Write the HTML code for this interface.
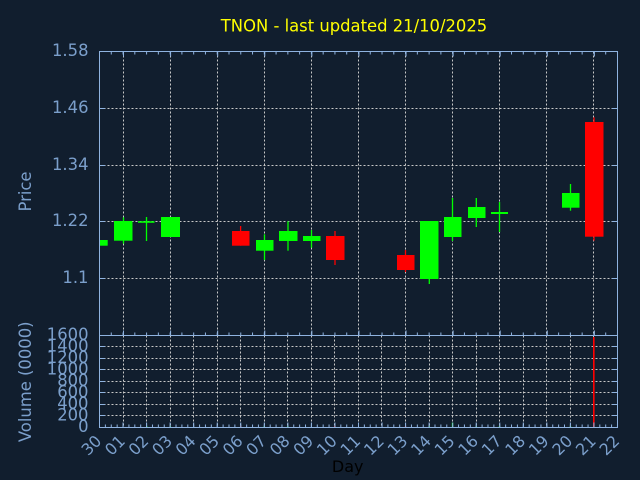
<!DOCTYPE html>
<html>
<head>
<meta charset="utf-8">
<style>
html,body{margin:0;padding:0;background:#111e2e;}
svg{display:block;}
text{font-family:"DejaVu Sans","Liberation Sans",sans-serif;}
</style>
</head>
<body>
<svg width="640" height="480" viewBox="0 0 640 480" xmlns="http://www.w3.org/2000/svg">
<rect x="0" y="0" width="640" height="480" fill="#111e2e"/>

<!-- Title -->
<text x="354" y="31.5" font-size="16.4" fill="#ffff00" text-anchor="middle">TNON - last updated 21/10/2025</text>

<!-- Price grid -->
<g stroke="#c8c8c8" stroke-width="1" stroke-dasharray="2,2" fill="none">
  <line x1="99.5" y1="108.5" x2="617.5" y2="108.5"/>
  <line x1="99.5" y1="165.5" x2="617.5" y2="165.5"/>
  <line x1="99.5" y1="221.5" x2="617.5" y2="221.5"/>
  <line x1="99.5" y1="278.5" x2="617.5" y2="278.5"/>
  <line x1="123.5" y1="51.5" x2="123.5" y2="335.5"/>
  <line x1="170.5" y1="51.5" x2="170.5" y2="335.5"/>
  <line x1="217.5" y1="51.5" x2="217.5" y2="335.5"/>
  <line x1="264.5" y1="51.5" x2="264.5" y2="335.5"/>
  <line x1="311.5" y1="51.5" x2="311.5" y2="335.5"/>
  <line x1="358.5" y1="51.5" x2="358.5" y2="335.5"/>
  <line x1="405.5" y1="51.5" x2="405.5" y2="335.5"/>
  <line x1="452.5" y1="51.5" x2="452.5" y2="335.5"/>
  <line x1="499.5" y1="51.5" x2="499.5" y2="335.5"/>
  <line x1="546.5" y1="51.5" x2="546.5" y2="335.5"/>
  <line x1="593.5" y1="51.5" x2="593.5" y2="335.5"/>
</g>

<!-- Volume grid -->
<g stroke="#c8c8c8" stroke-width="1" stroke-dasharray="2,2" fill="none">
  <line x1="99.5" y1="346.5" x2="617.5" y2="346.5"/>
  <line x1="99.5" y1="358.5" x2="617.5" y2="358.5"/>
  <line x1="99.5" y1="369.5" x2="617.5" y2="369.5"/>
  <line x1="99.5" y1="381.5" x2="617.5" y2="381.5"/>
  <line x1="99.5" y1="392.5" x2="617.5" y2="392.5"/>
  <line x1="99.5" y1="404.5" x2="617.5" y2="404.5"/>
  <line x1="99.5" y1="415.5" x2="617.5" y2="415.5"/>
  <line x1="123.5" y1="335.5" x2="123.5" y2="427.5"/>
  <line x1="146.5" y1="335.5" x2="146.5" y2="427.5"/>
  <line x1="170.5" y1="335.5" x2="170.5" y2="427.5"/>
  <line x1="193.5" y1="335.5" x2="193.5" y2="427.5"/>
  <line x1="217.5" y1="335.5" x2="217.5" y2="427.5"/>
  <line x1="240.5" y1="335.5" x2="240.5" y2="427.5"/>
  <line x1="264.5" y1="335.5" x2="264.5" y2="427.5"/>
  <line x1="287.5" y1="335.5" x2="287.5" y2="427.5"/>
  <line x1="311.5" y1="335.5" x2="311.5" y2="427.5"/>
  <line x1="334.5" y1="335.5" x2="334.5" y2="427.5"/>
  <line x1="358.5" y1="335.5" x2="358.5" y2="427.5"/>
  <line x1="381.5" y1="335.5" x2="381.5" y2="427.5"/>
  <line x1="405.5" y1="335.5" x2="405.5" y2="427.5"/>
  <line x1="429.5" y1="335.5" x2="429.5" y2="427.5"/>
  <line x1="452.5" y1="335.5" x2="452.5" y2="427.5"/>
  <line x1="476.5" y1="335.5" x2="476.5" y2="427.5"/>
  <line x1="499.5" y1="335.5" x2="499.5" y2="427.5"/>
  <line x1="523.5" y1="335.5" x2="523.5" y2="427.5"/>
  <line x1="546.5" y1="335.5" x2="546.5" y2="427.5"/>
  <line x1="570.5" y1="335.5" x2="570.5" y2="427.5"/>
  <line x1="593.5" y1="335.5" x2="593.5" y2="427.5"/>
</g>

<!-- Candles -->
<g stroke-width="1.3">
  <g fill="#00ff00" stroke="#00ff00">
    <rect x="100" y="240" width="7.7" height="5.7" stroke="none"/>
    <line x1="123.5" y1="217.3" x2="123.5" y2="243.7"/>
    <rect x="114" y="221" width="18.5" height="19.7" stroke="none"/>
    <line x1="146.5" y1="217" x2="146.5" y2="241"/>
    <rect x="138" y="221.2" width="16.5" height="1.6" stroke="none"/>
    <rect x="161" y="217" width="19" height="20" stroke="none"/>
    <line x1="264.5" y1="234.3" x2="264.5" y2="260"/>
    <rect x="256" y="240" width="17.5" height="10.7" stroke="none"/>
    <line x1="288" y1="221.3" x2="288" y2="250.7"/>
    <rect x="279" y="231" width="18.5" height="10" stroke="none"/>
    <line x1="311.5" y1="230" x2="311.5" y2="247.7"/>
    <rect x="303" y="236" width="17.5" height="5" stroke="none"/>
    <line x1="429.3" y1="221" x2="429.3" y2="284"/>
    <rect x="420" y="221" width="18.5" height="58" stroke="none"/>
    <line x1="452.5" y1="198" x2="452.5" y2="241"/>
    <rect x="444" y="217" width="17.5" height="20" stroke="none"/>
    <line x1="476.3" y1="198" x2="476.3" y2="227"/>
    <rect x="468" y="207" width="17.5" height="11" stroke="none"/>
    <line x1="499.5" y1="202" x2="499.5" y2="232"/>
    <rect x="491" y="212" width="17" height="2" stroke="none"/>
    <line x1="570.5" y1="184" x2="570.5" y2="210.7"/>
    <rect x="562" y="193" width="17.5" height="14.7" stroke="none"/>
  </g>
  <g fill="#ff0000" stroke="#ff0000">
    <line x1="240.6" y1="226" x2="240.6" y2="245.7"/>
    <rect x="232" y="231" width="17.5" height="14.7" stroke="none"/>
    <line x1="335" y1="231" x2="335" y2="265"/>
    <rect x="326" y="236" width="18.5" height="24" stroke="none"/>
    <line x1="405.5" y1="250" x2="405.5" y2="272"/>
    <rect x="397" y="255" width="17.5" height="15" stroke="none"/>
    <line x1="594" y1="117.3" x2="594" y2="240.7"/>
    <rect x="585" y="122" width="18.5" height="114.7" stroke="none"/>
  </g>
</g>

<!-- Volume bars -->
<g>
  <rect x="146" y="426" width="1.4" height="1.5" fill="#00ff00"/>
  <rect x="169.6" y="426" width="1.4" height="1.5" fill="#00ff00"/>
  <rect x="240" y="426" width="1.4" height="1.5" fill="#ff0000"/>
  <rect x="263.6" y="426" width="1.4" height="1.5" fill="#00ff00"/>
  <rect x="287" y="426" width="1.4" height="1.5" fill="#00ff00"/>
  <rect x="334" y="426" width="1.4" height="1.5" fill="#ff0000"/>
  <rect x="404.8" y="426" width="1.4" height="1.5" fill="#ff0000"/>
  <rect x="428.6" y="426" width="1.4" height="1.5" fill="#00ff00"/>
  <rect x="451.8" y="422.5" width="1.4" height="5" fill="#00ff00"/>
  <rect x="475.6" y="426" width="1.4" height="1.5" fill="#00ff00"/>
  <rect x="498.8" y="426" width="1.4" height="1.5" fill="#00ff00"/>
  <rect x="569.8" y="426" width="1.4" height="1.5" fill="#00ff00"/>
  <rect x="593" y="337" width="1.6" height="90.5" fill="#ff0000"/>
</g>

<!-- Axes -->
<g stroke="#8fb3e0" stroke-width="1" fill="none">
  <rect x="99.5" y="51.5" width="518" height="376"/>
  <line x1="99.5" y1="335.5" x2="617.5" y2="335.5"/>
  <line x1="99" y1="53" x2="618" y2="53" stroke-width="3" stroke-dasharray="1 10.772"/>
  <line x1="99" y1="334" x2="618" y2="334" stroke-width="3" stroke-dasharray="1 10.772"/>
  <line x1="123" y1="54" x2="618" y2="54" stroke-width="5" stroke-dasharray="1 46.09"/>
  <line x1="123" y1="333" x2="618" y2="333" stroke-width="5" stroke-dasharray="1 46.09"/>
  <line x1="99" y1="426" x2="618" y2="426" stroke-width="3" stroke-dasharray="1 4.886"/>
  <line x1="99" y1="425" x2="618" y2="425" stroke-width="5" stroke-dasharray="1 22.545"/>
  <line x1="99.5" y1="108.5" x2="105" y2="108.5"/>
  <line x1="99.5" y1="165.5" x2="105" y2="165.5"/>
  <line x1="99.5" y1="221.5" x2="105" y2="221.5"/>
  <line x1="99.5" y1="278.5" x2="105" y2="278.5"/>
  <line x1="612" y1="108.5" x2="617.5" y2="108.5"/>
  <line x1="612" y1="165.5" x2="617.5" y2="165.5"/>
  <line x1="612" y1="221.5" x2="617.5" y2="221.5"/>
  <line x1="612" y1="278.5" x2="617.5" y2="278.5"/>
  <line x1="99.5" y1="346.5" x2="105" y2="346.5"/>
  <line x1="99.5" y1="358.5" x2="105" y2="358.5"/>
  <line x1="99.5" y1="369.5" x2="105" y2="369.5"/>
  <line x1="99.5" y1="381.5" x2="105" y2="381.5"/>
  <line x1="99.5" y1="392.5" x2="105" y2="392.5"/>
  <line x1="99.5" y1="404.5" x2="105" y2="404.5"/>
  <line x1="99.5" y1="415.5" x2="105" y2="415.5"/>
  <line x1="612" y1="346.5" x2="617.5" y2="346.5"/>
  <line x1="612" y1="358.5" x2="617.5" y2="358.5"/>
  <line x1="612" y1="369.5" x2="617.5" y2="369.5"/>
  <line x1="612" y1="381.5" x2="617.5" y2="381.5"/>
  <line x1="612" y1="392.5" x2="617.5" y2="392.5"/>
  <line x1="612" y1="404.5" x2="617.5" y2="404.5"/>
  <line x1="612" y1="415.5" x2="617.5" y2="415.5"/>
</g>

<!-- Y labels -->
<g font-size="16.4" fill="#7b9fcb" text-anchor="end">
  <text x="88.5" y="56">1.58</text>
  <text x="88.5" y="113">1.46</text>
  <text x="88.5" y="170">1.34</text>
  <text x="88.5" y="226">1.22</text>
  <text x="88.5" y="283">1.1</text>
  <text x="88.5" y="340">1600</text>
  <text x="88.5" y="351.5">1400</text>
  <text x="88.5" y="363">1200</text>
  <text x="88.5" y="374.5">1000</text>
  <text x="88.5" y="386">800</text>
  <text x="88.5" y="397.5">600</text>
  <text x="88.5" y="409">400</text>
  <text x="88.5" y="420.5">200</text>
  <text x="88.5" y="432">0</text>
</g>

<!-- Axis titles -->
<text transform="translate(31,191.5) rotate(-90)" font-size="16.4" fill="#7b9fcb" text-anchor="middle">Price</text>
<text transform="translate(31,381.8) rotate(-90)" font-size="16.4" fill="#7b9fcb" text-anchor="middle">Volume (0000)</text>
<text x="347.7" y="472" font-size="16" fill="#000000" text-anchor="middle">Day</text>

<!-- X labels -->
<g font-size="16" fill="#7b9fcb" text-anchor="end">
  <text transform="translate(102.5,442) rotate(-45)">30</text>
  <text transform="translate(126.05,442) rotate(-45)">01</text>
  <text transform="translate(149.59,442) rotate(-45)">02</text>
  <text transform="translate(173.14,442) rotate(-45)">03</text>
  <text transform="translate(196.68,442) rotate(-45)">04</text>
  <text transform="translate(220.23,442) rotate(-45)">05</text>
  <text transform="translate(243.77,442) rotate(-45)">06</text>
  <text transform="translate(267.32,442) rotate(-45)">07</text>
  <text transform="translate(290.86,442) rotate(-45)">08</text>
  <text transform="translate(314.41,442) rotate(-45)">09</text>
  <text transform="translate(337.95,442) rotate(-45)">10</text>
  <text transform="translate(361.5,442) rotate(-45)">11</text>
  <text transform="translate(385.04,442) rotate(-45)">12</text>
  <text transform="translate(408.59,442) rotate(-45)">13</text>
  <text transform="translate(432.13,442) rotate(-45)">14</text>
  <text transform="translate(455.68,442) rotate(-45)">15</text>
  <text transform="translate(479.22,442) rotate(-45)">16</text>
  <text transform="translate(502.77,442) rotate(-45)">17</text>
  <text transform="translate(526.31,442) rotate(-45)">18</text>
  <text transform="translate(549.86,442) rotate(-45)">19</text>
  <text transform="translate(573.4,442) rotate(-45)">20</text>
  <text transform="translate(596.95,442) rotate(-45)">21</text>
  <text transform="translate(620.5,442) rotate(-45)">22</text>
</g>
</svg>
</body>
</html>
